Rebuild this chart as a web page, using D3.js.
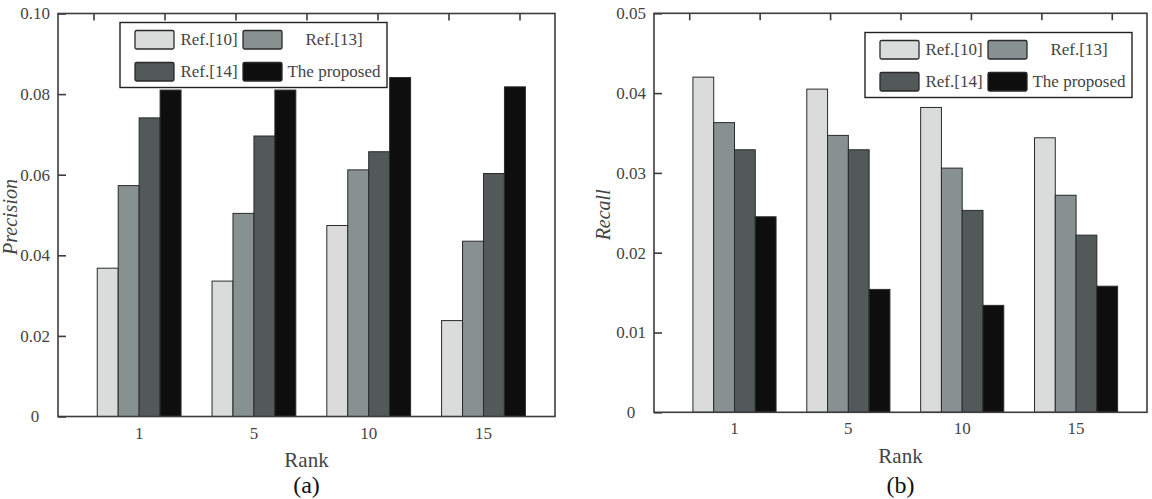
<!DOCTYPE html>
<html>
<head>
<meta charset="utf-8">
<script src="https://cdn.jsdelivr.net/npm/d3@7"></script>
<style>
  body { margin: 0; background: #fff; }
  text { font-family: "Liberation Serif", "DejaVu Serif", serif; }
</style>
</head>
<body>
<div id="chart"></div>
<script>
// categories and series
const ranks = ["1", "5", "10", "15"];
const methods = ["Ref.[10]", "Ref.[13]", "Ref.[14]", "The proposed"];
const methodColors = ["#d9dcdb", "#879190", "#525958", "#0e0e0e"];

// (a) precision
const precisionRef10 = [0.0368, 0.0336, 0.0474, 0.0238];
const precisionRef13 = [0.0573, 0.0504, 0.0612, 0.0435];
const precisionRef14 = [0.0741, 0.0696, 0.0657, 0.0603];
const precisionProposed = [0.0810, 0.0810, 0.0841, 0.0818];
const precisionTicks = [0, 0.02, 0.04, 0.06, 0.08, 0.10];
const precisionTickLabels = ["0", "0.02", "0.04", "0.06", "0.08", "0.10"];

// (b) recall
const recallRef10 = [0.0420, 0.0405, 0.0382, 0.0344];
const recallRef13 = [0.0363, 0.0347, 0.0306, 0.0272];
const recallRef14 = [0.0329, 0.0329, 0.0253, 0.0222];
const recallProposed = [0.0245, 0.0154, 0.0134, 0.0158];
const recallTicks = [0, 0.01, 0.02, 0.03, 0.04, 0.05];
const recallTickLabels = ["0", "0.01", "0.02", "0.03", "0.04", "0.05"];

const width = 1152, height = 499;
const axisColor = "#3c3c3c", textColor = "#444";

const svg = d3.select("#chart").append("svg")
    .attr("width", width)
    .attr("height", height);

function drawPanel(p) {
    const g = svg.append("g");
    const series = p.series;

    let y = d3.scaleLinear().domain([0, p.yMax]).range([p.bottom, p.top]);
    let x = d3.scaleBand().domain(ranks).range([p.left, p.right])
        .paddingInner(0.27).paddingOuter(0.3).align(0.57);
    let xs = d3.scaleBand().domain(methods).range([0, x.bandwidth()]);

    // bars
    const rows = ranks.map((r, i) => methods.map((m, j) => ({ rank: r, method: m, idx: j, value: series[j][i] })));
    g.selectAll("g.group")
        .data(rows)
        .join("g")
        .attr("class", "group")
        .attr("transform", d => "translate(" + x(d[0].rank) + ",0)")
        .selectAll("rect")
        .data(d => d)
        .join("rect")
        .attr("x", d => xs(d.method))
        .attr("y", d => y(d.value))
        .attr("width", xs.bandwidth())
        .attr("height", d => p.bottom - y(d.value))
        .attr("fill", d => methodColors[d.idx])
        .attr("stroke", "#2a2a2a")
        .attr("stroke-width", 1);

    // frame
    g.append("rect")
        .attr("x", p.left).attr("y", p.top)
        .attr("width", p.right - p.left).attr("height", p.bottom - p.top)
        .attr("fill", "none")
        .attr("stroke", axisColor)
        .attr("stroke-width", 1.6);

    // y axis, inward ticks, labels centred
    let yAxis = g.append("g")
        .attr("transform", "translate(" + p.left + ",0)")
        .call(d3.axisLeft(y).tickValues(p.ticks).tickSize(-8).tickSizeOuter(0).tickPadding(23)
            .tickFormat((d, i) => p.tickLabels[i]));
    yAxis.select(".domain").remove();
    yAxis.selectAll(".tick line").attr("stroke", axisColor).attr("stroke-width", 1.6);
    yAxis.selectAll(".tick text")
        .attr("text-anchor", "middle")
        .attr("fill", textColor)
        .style("font-size", "17px");

    // top axis: inward tick marks only
    let xTop = d3.scaleLinear().domain([0, 7]).range([p.left, p.right]);
    let topAxis = g.append("g")
        .attr("transform", "translate(0," + p.top + ")")
        .call(d3.axisTop(xTop).tickValues(d3.range(0.5, 7, 1)).tickSize(-7).tickFormat(""));
    topAxis.select(".domain").remove();
    topAxis.selectAll(".tick line").attr("stroke", axisColor).attr("stroke-width", 1.6);

    // x axis labels
    let xAxis = g.append("g")
        .attr("transform", "translate(0," + p.bottom + ")")
        .call(d3.axisBottom(x).tickSize(0).tickPadding(10));
    xAxis.select(".domain").remove();
    xAxis.selectAll(".tick text")
        .attr("fill", textColor)
        .style("font-size", "17px");

    const cx = (p.left + p.right) / 2;
    g.append("text")
        .attr("x", cx).attr("y", p.bottom + 50.5)
        .attr("text-anchor", "middle")
        .attr("fill", textColor)
        .style("font-size", "21px")
        .text("Rank");

    g.append("text")
        .attr("x", cx).attr("y", 493)
        .attr("text-anchor", "middle")
        .attr("fill", "#111")
        .style("font-size", "24px")
        .text(p.caption);

    g.append("text")
        .attr("transform", "translate(" + p.yLabelX + "," + ((p.top + p.bottom) / 2 + 2) + ") rotate(-90)")
        .attr("text-anchor", "middle")
        .attr("fill", textColor)
        .style("font-size", "20px")
        .style("font-style", "italic")
        .text(p.yLabel);

    // legend
    let legend = g.append("g")
        .attr("transform", "translate(" + p.legendX + "," + p.legendY + ")");
    legend.append("rect")
        .attr("width", 267).attr("height", 65)
        .attr("fill", "#fff")
        .attr("stroke", "#222")
        .attr("stroke-width", 1.4);
    const swatchX = [15, 123], textX = [89, 214], rowY = [8, 40];
    methods.forEach((m, j) => {
        const col = j % 2, row = Math.floor(j / 2);
        legend.append("rect")
            .attr("x", swatchX[col]).attr("y", rowY[row])
            .attr("width", 39).attr("height", 18.5)
            .attr("rx", 1.5)
            .attr("fill", methodColors[j])
            .attr("stroke", "#2a2a2a")
            .attr("stroke-width", 1.3);
        legend.append("text")
            .attr("x", textX[col]).attr("y", rowY[row] + 14.5)
            .attr("text-anchor", "middle")
            .attr("fill", textColor)
            .style("font-size", "17px")
            .text(m);
    });
}

drawPanel({
    left: 58, right: 555, top: 13.5, bottom: 416.5, yMax: 0.1,
    series: [precisionRef10, precisionRef13, precisionRef14, precisionProposed],
    ticks: precisionTicks, tickLabels: precisionTickLabels,
    yLabel: "Precision", yLabelX: 17, caption: "(a)",
    legendX: 120, legendY: 22.5
});

drawPanel({
    left: 654, right: 1147, top: 13.3, bottom: 412.3, yMax: 0.05,
    series: [recallRef10, recallRef13, recallRef14, recallProposed],
    ticks: recallTicks, tickLabels: recallTickLabels,
    yLabel: "Recall", yLabelX: 610, caption: "(b)",
    legendX: 865, legendY: 32.5
});
</script>
</body>
</html>
